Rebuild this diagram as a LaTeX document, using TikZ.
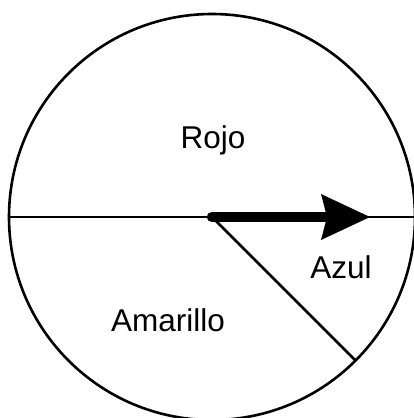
\documentclass[tikz,border=0pt]{standalone}
\usepackage{fontspec}
\setmainfont{Liberation Sans}
\begin{document}
\begin{tikzpicture}[x=1pt,y=-1pt,
  thinline/.style={line width=2.6pt,black},
  lbl/.style={font=\fontsize{31.5}{36}\selectfont,inner sep=0pt}]
\useasboundingbox (0,0) rectangle (414,418);
\coordinate (c) at (212,217);
\coordinate (w) at (9,217);
\coordinate (e) at (416,217);
\coordinate (tip) at (370,217);
\coordinate (d) at (356,361);
\draw[thinline] (c) circle (203);
\draw[thinline] (w) -- (e);
\draw[thinline] (c) -- (d);
\draw[line width=10.5pt,line cap=round] (c) -- (326,217);
\fill (tip) -- (321,194) -- (327,217) -- (321,240) -- cycle;
\node[lbl] (rojo) at (213,140) {Rojo};
\node[lbl] (azul) at (341,267) {Azul};
\node[lbl] (amar) at (168,320) {Amarillo};
\end{tikzpicture}
\end{document}
